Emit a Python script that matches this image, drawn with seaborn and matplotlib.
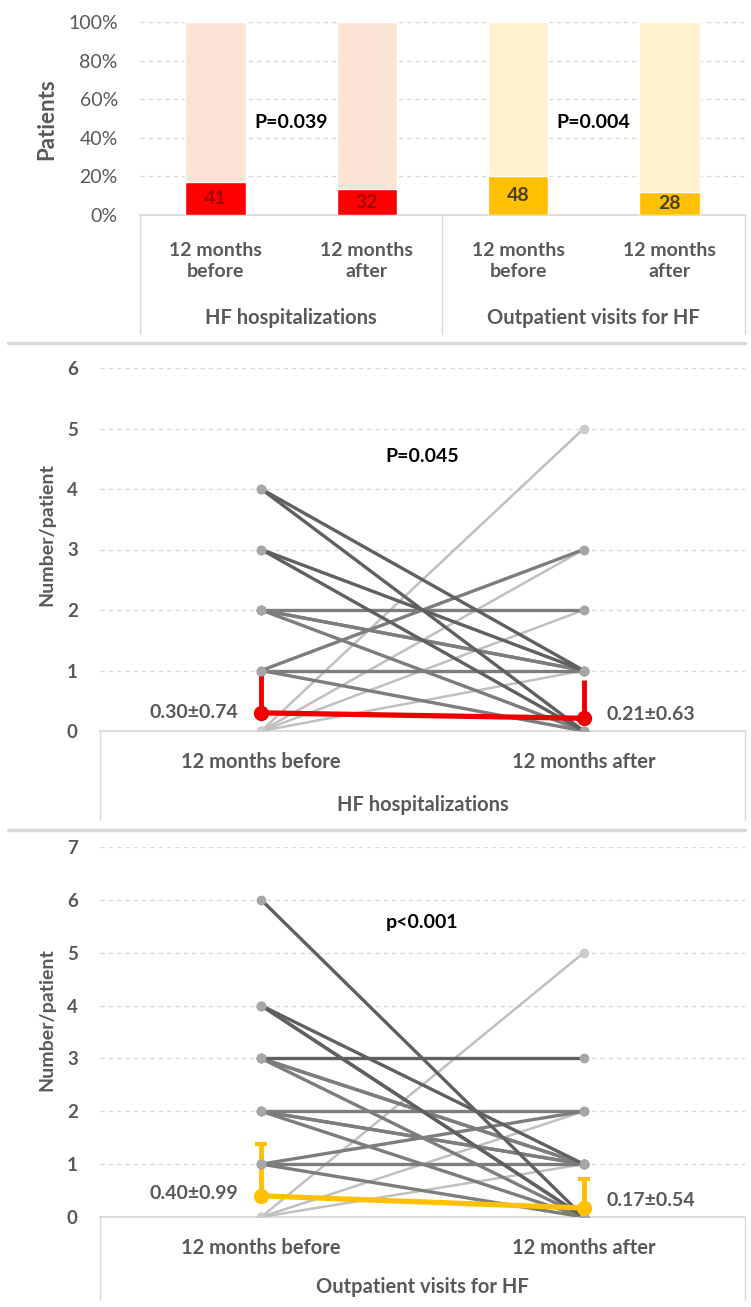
import numpy as np
import pandas as pd
import matplotlib
matplotlib.use("Agg")
import matplotlib.pyplot as plt
import matplotlib.transforms as mtransforms
from matplotlib.lines import Line2D
import seaborn as sns

# ---------------- data ----------------
bar_keys = ["hf_before", "hf_after", "op_before", "op_after"]
bar_tick_labels = ["12 months\nbefore", "12 months\nafter", "12 months\nbefore", "12 months\nafter"]
bar_counts = [41, 32, 48, 28]
bar_pct = [0.172, 0.134, 0.202, 0.118]
bar_groups = ["HF hospitalizations", "Outpatient visits for HF"]
bar_pvalues = ["P=0.039", "P=0.004"]

periods = ["12 months before", "12 months after"]

# HF hospitalizations: paired (before, after) per patient line, shade
hf_before = [4, 4, 3, 3, 2, 2, 2, 2, 1, 1, 1, 0, 0, 0, 0]
hf_after  = [1, 0, 1, 0, 2, 1, 0, 1, 1, 3, 0, 5, 3, 2, 1]
hf_shade  = ["d", "d", "d", "d", "m", "m", "m", "m", "m", "m", "m", "l", "l", "l", "l"]
hf_mean = [0.30, 0.21]
hf_sd = [0.74, 0.63]
hf_labels = ["0.30±0.74", "0.21±0.63"]
hf_p = "P=0.045"

# Outpatient visits for HF
op_before = [6, 4, 4, 4, 3, 3, 3, 3, 2, 2, 2, 2, 1, 1, 1, 0, 0, 0]
op_after  = [0, 1, 0, 0, 3, 1, 0, 1, 2, 1, 0, 1, 1, 2, 0, 5, 2, 1]
op_shade  = ["d", "d", "d", "d", "d", "m", "m", "m", "m", "m", "m", "m", "m", "m", "m", "l", "l", "l"]
op_mean = [0.40, 0.17]
op_sd = [0.99, 0.54]
op_labels = ["0.40±0.99", "0.17±0.54"]
op_p = "p<0.001"

# ---------------- style ----------------
sns.set_theme(style="white")
plt.rcParams["font.family"] = ["Lato", "DejaVu Sans"]

W, H = 751, 1307
fig = plt.figure(figsize=(W / 100, H / 100), dpi=100)

def fx(x):
    return x / W

def fy(y):
    return 1 - y / H

def ftext(x, y, s, **kw):
    fig.text(fx(x), fy(y), s, **kw)

def fline(x0, y0, x1, y1, color="#d9d9d9", lw=1.0):
    fig.add_artist(Line2D([fx(x0), fx(x1)], [fy(y0), fy(y1)], color=color, lw=lw,
                          transform=fig.transFigure))

TXT = "#595959"
GRID = "#d9d9d9"
shade_col = {"d": "#606060", "m": "#7d7d7d", "l": "#c0c0c0"}
shade_mk = {"d": "#a6a6a6", "m": "#a6a6a6", "l": "#cccccc"}
shade_lw = {"d": 2.4, "m": 2.4, "l": 1.8}

# ---------------- top: stacked proportion bars ----------------
ax1 = fig.add_axes([fx(140), fy(215), (745 - 140) / W, (215 - 22) / H])
bg_cols = ["#fbe3d5", "#fbe3d5", "#fff2cc", "#fff2cc"]
fg_cols = ["#ff0000", "#ff0000", "#ffc000", "#ffc000"]
df_bar = pd.DataFrame({"key": bar_keys, "pct": bar_pct, "full": [1.0] * 4})
sns.barplot(data=df_bar, x="key", y="full", hue="key", palette=bg_cols, legend=False,
            width=0.4, saturation=1, ax=ax1, zorder=2)
sns.barplot(data=df_bar, x="key", y="pct", hue="key", palette=fg_cols, legend=False,
            width=0.4, saturation=1, ax=ax1, zorder=3)
ax1.set_ylim(0, 1.0)
ax1.set_xlim(-0.5, 3.5)
ax1.set_yticks(np.arange(0, 1.01, 0.2))
ax1.set_yticklabels([f"{int(round(v*100))}%" for v in np.arange(0, 1.01, 0.2)], fontsize=14, color=TXT)
ax1.yaxis.grid(True, color=GRID, linestyle=(0, (3, 3)), lw=1)
ax1.set_axisbelow(True)
ax1.tick_params(axis="y", length=0, pad=16)
ax1.set_xticks([])
ax1.set_xlabel("")
ax1.set_ylabel("")
for s in ["top", "right", "left"]:
    ax1.spines[s].set_visible(False)
ax1.spines["bottom"].set_color(GRID)
lab_cols = ["#a30000", "#a30000", "#4a4020", "#4a4020"]
for i, (c, p) in enumerate(zip(bar_counts, bar_pct)):
    ax1.text(i, p / 2, str(c), ha="center", va="center", fontsize=14, color=lab_cols[i],
             fontweight="bold", zorder=5)
ax1.text(0.5, 0.48, bar_pvalues[0], ha="center", va="center", fontsize=14, fontweight="bold", color="black")
ax1.text(2.5, 0.48, bar_pvalues[1], ha="center", va="center", fontsize=14, fontweight="bold", color="black")

trans1 = mtransforms.blended_transform_factory(ax1.transData, fig.transFigure)
for i, lab in enumerate(bar_tick_labels):
    ax1.text(i, fy(261), lab, transform=trans1, ha="center", va="center",
             fontsize=14, color=TXT, fontweight="bold", linespacing=1.35)
ax1.text(0.5, fy(318), bar_groups[0], transform=trans1, ha="center", va="center",
         fontsize=14.5, color=TXT, fontweight="bold")
ax1.text(2.5, fy(318), bar_groups[1], transform=trans1, ha="center", va="center",
         fontsize=14.5, color=TXT, fontweight="bold")
ftext(47, 119, "Patients", rotation=90, ha="center", va="center", fontsize=16,
      fontweight="bold", color=TXT)
for xv in [140, 442, 745]:
    fline(xv, 215, xv, 334)
fline(8, 343, 745, 343, lw=2.5)

# ---------------- paired line panels ----------------
def paired_panel(ax, before, after, shade, mean, sd, labels, pval, pval_y, color, ymax,
                 y0px, lab_offsets, capsize):
    rows = []
    for i, (b, a, s) in enumerate(zip(before, after, shade)):
        rows.append({"line": f"p{i}", "t": 0, "v": b, "shade": s})
        rows.append({"line": f"p{i}", "t": 1, "v": a, "shade": s})
    df = pd.DataFrame(rows)
    # error bars (upward only) beneath the individual lines
    ax.errorbar([0, 1], mean, yerr=[[0, 0], sd], fmt="none", ecolor=color, elinewidth=3.5,
                capsize=capsize, capthick=3, zorder=1)
    for s in ["l", "m", "d"]:
        sub = df[df["shade"] == s]
        if sub.empty:
            continue
        sns.lineplot(data=sub, x="t", y="v", units="line", estimator=None,
                     color=shade_col[s], lw=shade_lw[s], marker="o", markersize=7,
                     markerfacecolor=shade_mk[s], markeredgewidth=0, legend=False,
                     ax=ax, zorder=2)
    dfm = pd.DataFrame({"t": [0, 1], "v": mean})
    sns.lineplot(data=dfm, x="t", y="v", color=color, lw=3.8, marker="o", markersize=11,
                 markeredgewidth=0, ax=ax, zorder=4)
    ax.set_xlim(-0.5, 1.5)
    ax.set_ylim(0, ymax)
    ax.set_yticks(range(0, ymax + 1))
    ax.set_yticklabels([str(v) for v in range(0, ymax + 1)], fontsize=13.5, color=TXT,
                       fontweight="bold")
    ax.tick_params(axis="y", length=0, pad=16)
    ax.yaxis.grid(True, color=GRID, linestyle=(0, (3, 3)), lw=1)
    ax.set_axisbelow(True)
    ax.set_xticks([])
    ax.set_xlabel("")
    ax.set_ylabel("")
    for s in ["top", "right", "left"]:
        ax.spines[s].set_visible(False)
    ax.spines["bottom"].set_color(GRID)
    ax.spines["bottom"].set_zorder(0)
    ax.text(-0.07, mean[0] + lab_offsets[0], labels[0], ha="right", va="center", fontsize=14,
            fontweight="bold", color=TXT, zorder=5)
    ax.text(1.07, mean[1] + lab_offsets[1], labels[1], ha="left", va="center", fontsize=14,
            fontweight="bold", color=TXT, zorder=5)
    ax.text(0.5, pval_y, pval, ha="center", va="center", fontsize=14, fontweight="bold", color="black")
    trans = mtransforms.blended_transform_factory(ax.transData, fig.transFigure)
    for i, lab in enumerate(periods):
        ax.text(i, fy(y0px + 31), lab, transform=trans, ha="center", va="center",
                fontsize=14.5, color=TXT, fontweight="bold")

ax2 = fig.add_axes([fx(100), fy(731), 645 / W, (731 - 368) / H])
paired_panel(ax2, hf_before, hf_after, hf_shade, hf_mean, hf_sd, hf_labels, hf_p, 4.54,
             "#ee0000", 6, 731, [0.0, 0.07], 0)
trans2 = mtransforms.blended_transform_factory(ax2.transAxes, fig.transFigure)
ax2.text(0.5, fy(805), bar_groups[0], transform=trans2, ha="center", va="center",
         fontsize=14.5, color=TXT, fontweight="bold")
ftext(47, 535, "Number/patient", rotation=90, ha="center", va="center", fontsize=14,
      fontweight="bold", color=TXT)
for xv in [100, 745]:
    fline(xv, 731, xv, 820)
fline(8, 830, 745, 830, lw=2.5)

ax3 = fig.add_axes([fx(100), fy(1217), 645 / W, (1217 - 847) / H])
paired_panel(ax3, op_before, op_after, op_shade, op_mean, op_sd, op_labels, op_p, 5.58,
             "#ffc000", 7, 1217, [0.04, 0.15], 4)
trans3 = mtransforms.blended_transform_factory(ax3.transAxes, fig.transFigure)
ax3.text(0.5, fy(1287), bar_groups[1], transform=trans3, ha="center", va="center",
         fontsize=14.5, color=TXT, fontweight="bold")
ftext(47, 1020, "Number/patient", rotation=90, ha="center", va="center", fontsize=14,
      fontweight="bold", color=TXT)
for xv in [100, 745]:
    fline(xv, 1217, xv, 1300)

fig.savefig("out.png", dpi=100)
